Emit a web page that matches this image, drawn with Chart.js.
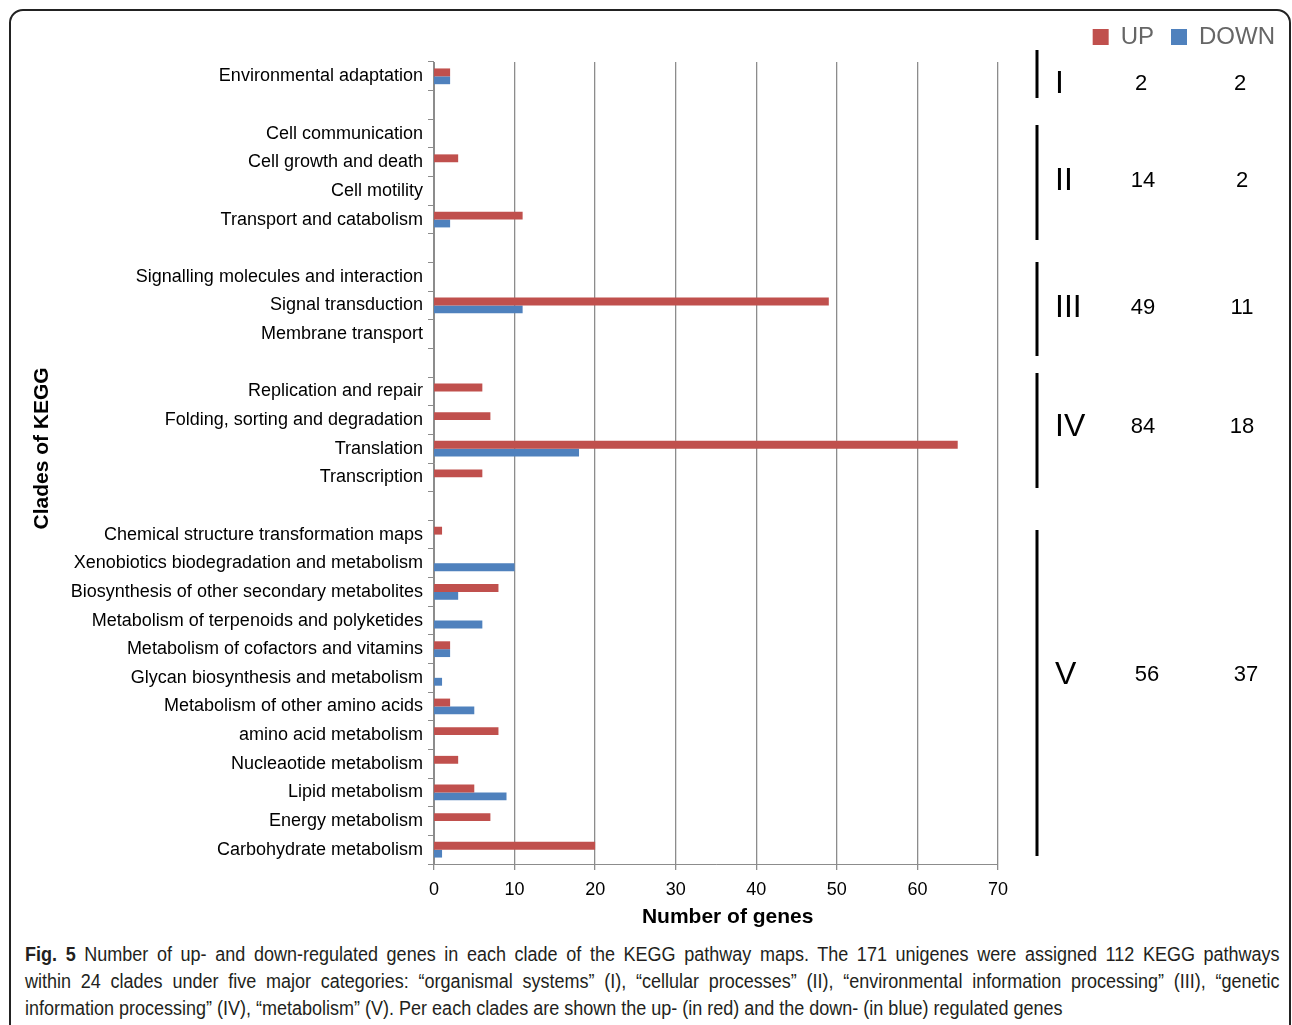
<!DOCTYPE html>
<html>
<head>
<meta charset="utf-8">
<script src="https://cdn.jsdelivr.net/npm/chart.js@4"></script>
<style>
  body { margin: 0; background: #fff; width: 1292px; height: 1025px; overflow: hidden; position: relative; }
  #frame { position: absolute; left: 9px; top: 9px; width: 1278px; height: 1100px; border: 2px solid #222; border-radius: 14px; }
  #wrap { position: absolute; left: 0; top: 0; width: 1292px; height: 940px; }
  #caption { position: absolute; left: 25px; top: 941px; width: 1394px; transform: scaleX(0.9); transform-origin: 0 0; font-family: "Liberation Sans", Arial, sans-serif; font-size: 20px; line-height: 27px; color: #231f20; white-space: nowrap; }
  #caption .ln { text-align: justify; text-align-last: justify; }
  #caption .last { text-align: left; }
</style>
</head>
<body>
<div id="frame"></div>
<div id="wrap"><canvas id="chart"></canvas></div>
<div id="caption">
  <div class="ln"><b>Fig. 5</b> Number of up- and down-regulated genes in each clade of the KEGG pathway maps. The 171 unigenes were assigned 112 KEGG pathways</div>
  <div class="ln">within 24 clades under five major categories: “organismal systems” (I), “cellular processes” (II), “environmental information processing” (III), “genetic</div>
  <div class="last">information processing” (IV), “metabolism” (V). Per each clades are shown the up- (in red) and the down- (in blue) regulated genes</div>
</div>
<script>
// blank labels are the gaps between the five groups
const clades = [
  'Environmental adaptation', '',
  'Cell communication', 'Cell growth and death', 'Cell motility', 'Transport and catabolism', '',
  'Signalling molecules and interaction', 'Signal transduction', 'Membrane transport', '',
  'Replication and repair', 'Folding, sorting and degradation', 'Translation', 'Transcription', '',
  'Chemical structure transformation maps', 'Xenobiotics biodegradation and metabolism',
  'Biosynthesis of other secondary metabolites', 'Metabolism of terpenoids and polyketides',
  'Metabolism of cofactors and vitamins', 'Glycan biosynthesis and metabolism',
  'Metabolism of other amino acids', 'amino acid metabolism', 'Nucleaotide metabolism',
  'Lipid metabolism', 'Energy metabolism', 'Carbohydrate metabolism'
];
const upGenes = [2, null, 0, 3, 0, 11, null, 0, 49, 0, null, 6, 7, 65, 6, null, 1, 0, 8, 0, 2, 0, 2, 8, 3, 5, 7, 20];
const downGenes = [2, null, 0, 0, 0, 2, null, 0, 11, 0, null, 0, 0, 18, 0, null, 0, 10, 3, 6, 2, 1, 5, 0, 0, 9, 0, 1];

const groupNames = ['I', 'II', 'III', 'IV', 'V'];
const groupUp = [2, 14, 49, 84, 56];
const groupDown = [2, 2, 11, 18, 37];

// where the group brackets sit on the right
const side = {
  lineX: 1037,
  spans: [[50, 98], [125, 240], [262, 356], [373, 488], [530, 856]],
  textY: [84, 181, 308, 427, 675],
  romanX: 1055,
  upX: [1141, 1143, 1143, 1143, 1147],
  downX: [1240, 1242, 1242, 1242, 1246]
};

const sideNotes = {
  id: 'sideNotes',
  afterDraw(chart) {
    const ctx = chart.ctx;
    ctx.save();
    ctx.fillStyle = '#000';
    ctx.strokeStyle = '#000';
    ctx.lineWidth = 3;
    ctx.textBaseline = 'middle';
    groupNames.forEach((name, i) => {
      ctx.beginPath();
      ctx.moveTo(side.lineX, side.spans[i][0]);
      ctx.lineTo(side.lineX, side.spans[i][1]);
      ctx.stroke();
      ctx.textAlign = 'left';
      ctx.font = '32px "Liberation Sans", Arial, sans-serif';
      ctx.fillText(name, side.romanX, side.textY[i]);
      ctx.textAlign = 'center';
      ctx.font = '22px "Liberation Sans", Arial, sans-serif';
      ctx.fillText(groupUp[i], side.upX[i], side.textY[i]);
      ctx.fillText(groupDown[i], side.downX[i], side.textY[i]);
    });
    ctx.restore();
  }
};

Chart.defaults.font.family = '"Liberation Sans", Arial, sans-serif';

new Chart(document.getElementById('chart'), {
  type: 'bar',
  data: {
    labels: clades,
    datasets: [
      { label: 'UP', data: upGenes, backgroundColor: '#C0504D', borderWidth: 0, yAxisID: 'y', categoryPercentage: 0.55, barPercentage: 1 },
      { label: 'DOWN', data: downGenes, backgroundColor: '#4F81BD', borderWidth: 0, yAxisID: 'y', categoryPercentage: 0.55, barPercentage: 1 }
    ]
  },
  options: {
    indexAxis: 'y',
    responsive: true,
    maintainAspectRatio: false,
    animation: false,
    layout: { padding: { top: 8, left: 16, right: 0, bottom: 0 } },
    plugins: {
      legend: {
        position: 'top',
        align: 'end',
        labels: { boxWidth: 16, boxHeight: 16, padding: 17, color: '#666', font: { size: 24 } }
      },
      tooltip: { enabled: false }
    },
    scales: {
      y: {
        type: 'category',
        position: 'left',
        afterFit: s => { s.width = 418; },
        grid: { drawOnChartArea: false, offset: true, tickLength: 6, color: '#8c8c8c' },
        border: { color: '#8c8c8c' },
        ticks: { autoSkip: false, padding: 5, color: '#000', font: { size: 18 } },
        title: { display: true, text: '     Clades of KEGG', color: '#000', font: { size: 21, weight: 'bold' }, padding: { top: 14, bottom: 0 } }
      },
      yR: {
        type: 'linear',
        axis: 'y',
        position: 'right',
        afterFit: s => { s.width = 294; },
        ticks: { display: false },
        grid: { display: false },
        border: { display: false }
      },
      xTop: {
        type: 'linear',
        axis: 'x',
        position: 'top',
        afterFit: s => { s.height = 3; },
        ticks: { display: false },
        grid: { display: false },
        border: { display: false }
      },
      x: {
        type: 'linear',
        min: 0,
        max: 70,
        afterFit: s => { s.height = 76; },
        ticks: { stepSize: 10, color: '#000', font: { size: 18 }, padding: 9 },
        grid: { color: '#8c8c8c', tickLength: 6, lineWidth: 1.3 },
        border: { color: '#8c8c8c' },
        title: { display: true, text: '    Number of genes', color: '#000', font: { size: 21, weight: 'bold' }, padding: { top: 0, bottom: 10 } }
      }
    }
  },
  plugins: [sideNotes]
});
</script>
</body>
</html>
